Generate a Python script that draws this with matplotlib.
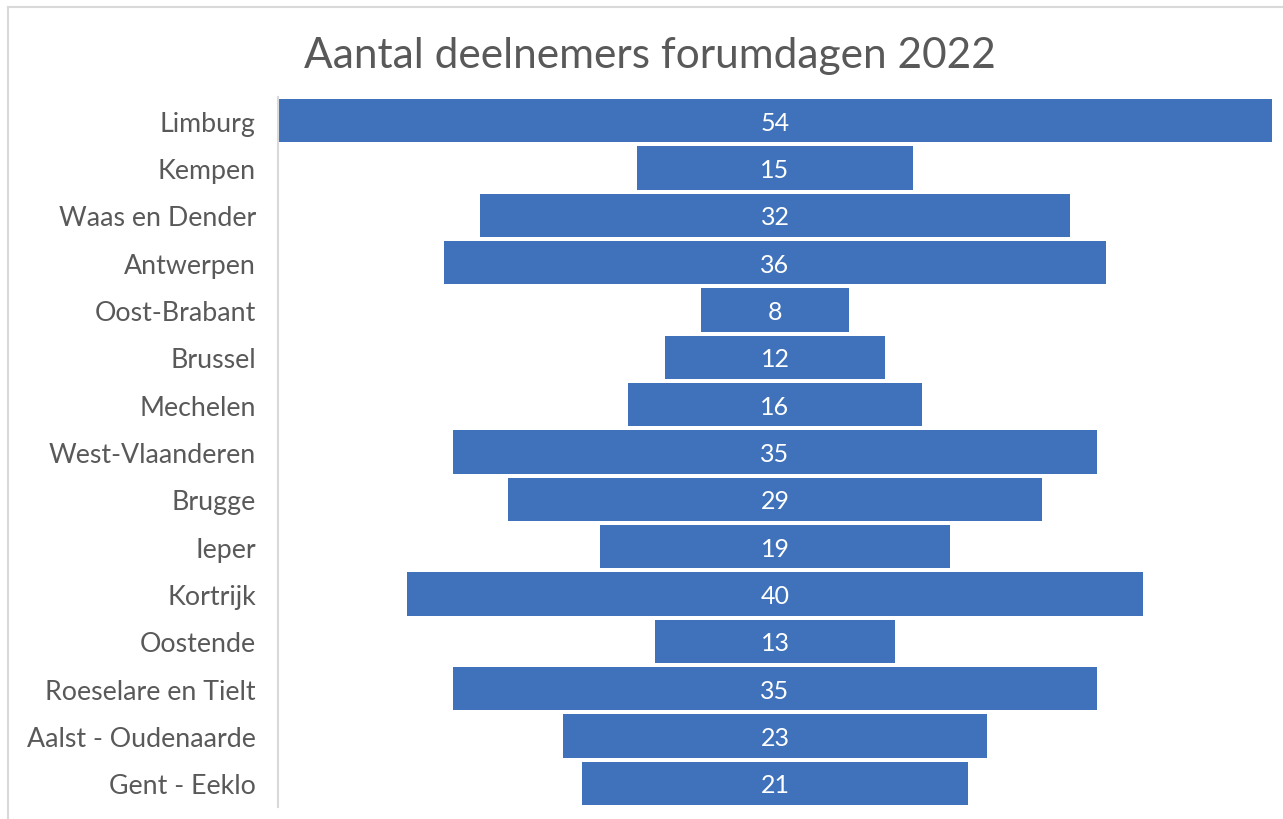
import numpy as np
import matplotlib.pyplot as plt
from matplotlib.lines import Line2D

regions = ['Limburg', 'Kempen', 'Waas en Dender', 'Antwerpen', 'Oost-Brabant',
           'Brussel', 'Mechelen', 'West-Vlaanderen', 'Brugge', 'Ieper',
           'Kortrijk', 'Oostende', 'Roeselare en Tielt', 'Aalst - Oudenaarde',
           'Gent - Eeklo']
participants = [54, 15, 32, 36, 8, 12, 16, 35, 29, 19, 40, 13, 35, 23, 21]

plt.rcParams['font.family'] = ['Lato', 'DejaVu Sans']
text_color = '#595959'
bar_color = '#3F72BA'

fig = plt.figure(figsize=(12.83, 8.2), dpi=100)
ax = fig.add_axes([278 / 1283, 1 - 808 / 820, (1272 - 278) / 1283, (808 - 98) / 820])

vals = np.array(participants)
ypos = np.arange(len(regions))
ax.barh(ypos, vals, left=-vals / 2, height=0.91, color=bar_color)

# value labels in the middle of each bar
for y, v in zip(ypos, vals):
    ax.text(0, y + 0.03, str(v), ha='center', va='center', color='white', fontsize=18)

ax.set_xlim(-27, 27)
ax.set_ylim(len(regions) - 0.5, -0.5)
ax.set_yticks(ypos)
ax.set_yticklabels(regions, fontsize=19.3, color=text_color)
ax.tick_params(axis='y', length=0, pad=16)
ax.set_xticks([])
for side in ['top', 'right', 'bottom']:
    ax.spines[side].set_visible(False)
ax.spines['left'].set_color('#D9D9D9')
ax.spines['left'].set_linewidth(1.5)

fig.text(650 / 1283, 1 - 56 / 820, 'Aantal deelnemers forumdagen 2022',
         ha='center', va='center', fontsize=30.5, color=text_color)

# thin outer border like the original chart area
fig.add_artist(Line2D([8 / 1283, 8 / 1283], [0, 1 - 8 / 820], color='#D9D9D9', lw=1.5))
fig.add_artist(Line2D([8 / 1283, 1], [1 - 8 / 820, 1 - 8 / 820], color='#D9D9D9', lw=1.5))

fig.savefig('out.png', dpi=100)
